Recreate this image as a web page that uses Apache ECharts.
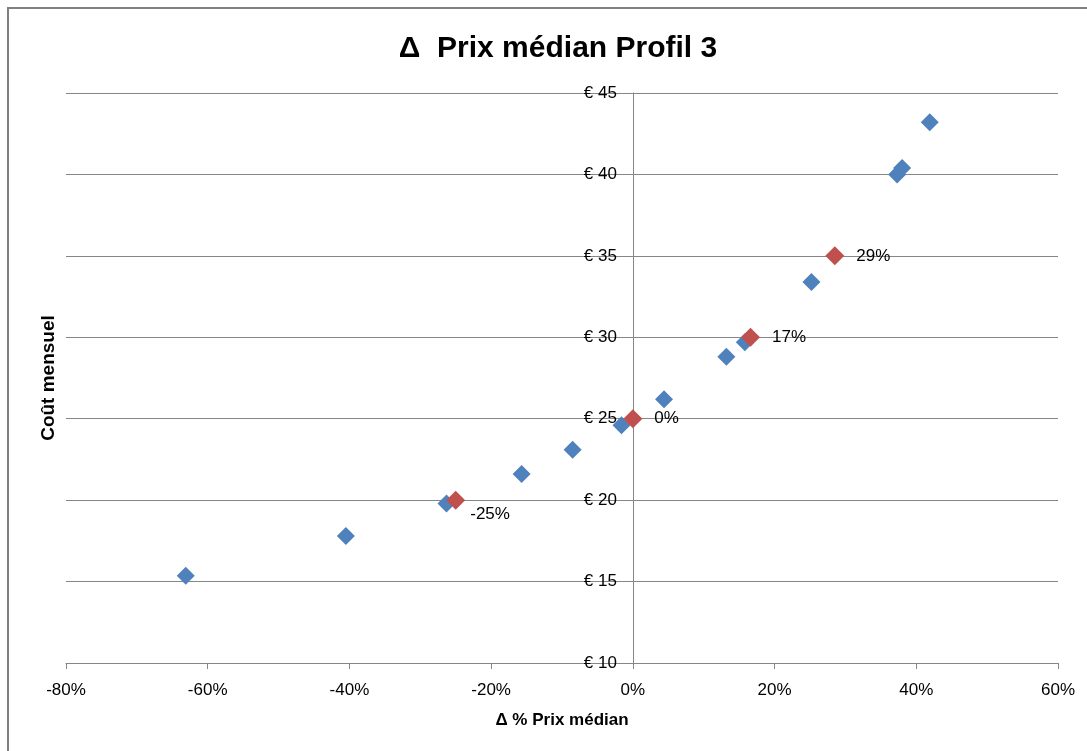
<!DOCTYPE html>
<html>
<head>
<meta charset="utf-8">
<script src="https://cdn.jsdelivr.net/npm/echarts@6/dist/echarts.min.js"></script>
<style>
  html, body { margin: 0; padding: 0; background: #fff; }
  #container { width: 1087px; height: 751px; }
</style>
</head>
<body>
<div id="container"></div>
<script>
var dom = document.getElementById("container");
var myChart = echarts.init(dom);

// Δ % prix médian (x, en %) / coût mensuel (y, en €)
var bluePoints = [
  [-63.1, 15.36], [-40.5, 17.8], [-26.3, 19.8], [-15.7, 21.6],
  [-8.5, 23.1], [-1.6, 24.6], [4.4, 26.2], [13.2, 28.8],
  [15.8, 29.7], [25.2, 33.4], [37.3, 40.0], [38.0, 40.4], [41.9, 43.2]
];
var redPoints = [[-25, 20], [0, 25], [16.6, 30], [28.5, 35]];
var redLabels = ['-25%', '0%', '17%', '29%'];

var xTicks = { min: -80, max: 60, step: 20 };
var yTicks = { min: 10, max: 45, step: 5 };

var font = '"Liberation Sans", Arial, sans-serif';
var gridColor = '#868686';
var gridLeft = 66, gridRight = 29;
// the y axis crosses at x = 0 : shift it from the left edge of the grid
var yAxisOffset = -(1087 - gridLeft - gridRight) * (0 - xTicks.min) / (xTicks.max - xTicks.min);

var option = {
  animation: false,
  textStyle: { fontFamily: font },
  title: {
    text: 'Δ  Prix médian Profil 3',
    left: 553,
    textAlign: 'center',
    top: 29,
    textStyle: { fontSize: 30, fontWeight: 'bold', color: '#000', fontFamily: font }
  },
  graphic: [{
    type: 'rect',
    shape: { x: 8, y: 8, width: 1200, height: 900 },
    style: { fill: 'none', stroke: '#808080', lineWidth: 2 },
    silent: true
  }, {
    type: 'text',
    x: 49,
    y: 378,
    rotation: Math.PI / 2,
    style: {
      text: 'Coût mensuel',
      font: 'bold 19px ' + font,
      fill: '#000',
      textAlign: 'center',
      textVerticalAlign: 'middle'
    }
  }],
  grid: { left: gridLeft, right: gridRight, top: 93, bottom: 88 },
  xAxis: {
    type: 'value',
    min: xTicks.min,
    max: xTicks.max,
    interval: xTicks.step,
    name: 'Δ % Prix médian',
    nameLocation: 'middle',
    nameGap: 49,
    nameTextStyle: { fontSize: 17, fontWeight: 'bold', color: '#000' },
    axisLine: { onZero: false, lineStyle: { color: gridColor } },
    axisTick: { show: true, length: 6, lineStyle: { color: gridColor } },
    axisLabel: { formatter: '{value}%', fontSize: 17, color: '#000', margin: 19 },
    splitLine: { show: false }
  },
  yAxis: {
    type: 'value',
    position: 'left',
    offset: yAxisOffset,
    min: yTicks.min,
    max: yTicks.max,
    interval: yTicks.step,
    axisLine: { show: true, onZero: false, lineStyle: { color: gridColor } },
    axisTick: { show: false },
    axisLabel: { formatter: '€ {value}', fontSize: 17, color: '#000', margin: 16 },
    splitLine: { show: true, lineStyle: { color: gridColor, width: 1 } }
  },
  series: [{
    type: 'scatter',
    symbol: 'diamond',
    symbolSize: 18,
    itemStyle: { color: '#4F81BD', opacity: 1 },
    data: bluePoints
  }, {
    type: 'scatter',
    symbol: 'diamond',
    symbolSize: 19,
    itemStyle: { color: '#C0504D', opacity: 1 },
    label: {
      show: true,
      position: 'right',
      distance: 12,
      fontSize: 17,
      color: '#000',
      formatter: function (p) { return redLabels[p.dataIndex]; }
    },
    data: redPoints.map(function (p, i) {
      var d = { value: p };
      if (i === 0) d.label = { offset: [-7, 14] };
      return d;
    })
  }]
};

myChart.setOption(option);
</script>
</body>
</html>
